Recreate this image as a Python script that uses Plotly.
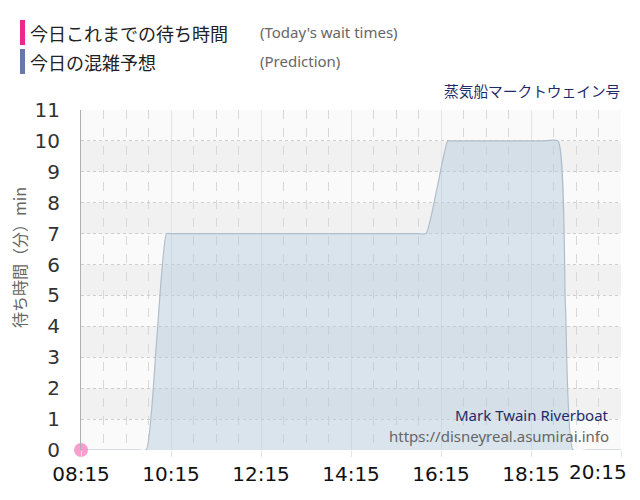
import plotly.graph_objects as go

# prediction for the day
pred_times = ["08:15", "08:30", "08:45", "09:00", "09:15", "09:30", "09:42",
              "09:56", "10:09", "10:15", "10:30", "11:00", "11:30", "12:00",
              "12:30", "13:00", "13:30", "14:00", "14:30", "15:00", "15:30",
              "15:45", "15:55", "16:10", "16:24", "16:30", "17:00", "17:30",
              "18:00", "18:30", "18:51", "19:01", "19:11", "19:30", "19:45",
              "20:00", "20:15"]
pred_waits = [0, 0, 0, 0, 0, 0, 0,
              3.6, 7, 7, 7, 7, 7, 7,
              7, 7, 7, 7, 7, 7, 7,
              7, 7, 8.5, 10, 10, 10, 10,
              10, 10, 10, 4.6, 0, 0, 0,
              0, 0]

# today's actual waits so far
actual_times = ["08:15"]
actual_waits = [0]

x_ticks = ["08:15", "10:15", "12:15", "14:15", "16:15", "18:15", "20:15"]

DAY = "2024-05-01 "
FONT = "DejaVu Sans, Noto Sans CJK JP"
JP = "Noto Sans CJK JP, DejaVu Sans"

# the page has an 8px body margin, so the figure is sized to fit
OFF = 8
PL, PT, PW, PH = 81, 110, 540, 340   # plot area in window pixels
FW, FH = 624, 484


def ts(hm_list):
    return [DAY + hm for hm in hm_list]


def px_x(x):
    return (x - PL) / PW


def px_y(y):
    return (PT + PH - y) / PH


fig = go.Figure()

fig.add_trace(go.Scatter(
    x=ts(pred_times), y=pred_waits,
    mode="lines",
    line=dict(color="rgb(175,190,204)", width=1.2, shape="spline", smoothing=0.5),
    fill="tozeroy",
    fillcolor="rgba(180,202,220,0.45)",
    hoverinfo="skip",
    showlegend=False
))

fig.add_trace(go.Scatter(
    x=ts(actual_times), y=actual_waits,
    mode="markers",
    marker=dict(color="rgba(245,135,195,0.8)", size=14),
    cliponaxis=False,
    showlegend=False
))

# alternating horizontal bands
shapes = []
for k in range(1, 11, 2):
    shapes.append(dict(type="rect", xref="paper", yref="y", x0=0, x1=1,
                       y0=k, y1=k + 1, fillcolor="#f1f1f1",
                       line_width=0, layer="below"))

# header legend bars
shapes.append(dict(type="rect", xref="paper", yref="paper",
                   x0=px_x(20), x1=px_x(25), y0=px_y(45), y1=px_y(20),
                   fillcolor="#f0268c", line_width=0))
shapes.append(dict(type="rect", xref="paper", yref="paper",
                   x0=px_x(20), x1=px_x(25), y0=px_y(74), y1=px_y(49),
                   fillcolor="#6779a6", line_width=0))
fig.update_layout(shapes=shapes)

annotations = [
    dict(text="今日これまでの待ち時間", x=px_x(28), y=px_y(33),
         xanchor="left", yanchor="middle",
         font=dict(family=JP, size=18, color="#222")),
    dict(text="今日の混雑予想", x=px_x(28), y=px_y(62),
         xanchor="left", yanchor="middle",
         font=dict(family=JP, size=18, color="#222")),
    dict(text="(Today's wait times)", x=px_x(258), y=px_y(32),
         xanchor="left", yanchor="middle",
         font=dict(family="Noto Sans", size=15, color="#666")),
    dict(text="(Prediction)", x=px_x(258), y=px_y(61),
         xanchor="left", yanchor="middle",
         font=dict(family="Noto Sans", size=15, color="#666")),
    dict(text="蒸気船マークトウェイン号", x=px_x(622), y=px_y(90),
         xanchor="right", yanchor="middle",
         font=dict(family=JP, size=14.7, color="#1f2a6b")),
    dict(text="Mark Twain Riverboat", x=px_x(611), y=px_y(415),
         xanchor="right", yanchor="middle",
         font=dict(family="Noto Sans", size=15, color="#1f2a6b")),
    dict(text="https://disneyreal.asumirai.info", x=px_x(611), y=px_y(436),
         xanchor="right", yanchor="middle",
         font=dict(family="Noto Sans", size=15, color="#666")),
    # y axis title, placed like the original (above the middle)
    dict(text="待ち時間（分）min", x=px_x(19), y=px_y(258),
         xanchor="center", yanchor="middle", textangle=-90,
         font=dict(family=JP, size=16, color="#666")),
    # last x label is pulled inside the chart edge
    dict(text=x_ticks[-1], x=px_x(629), y=px_y(472),
         xanchor="right", yanchor="middle",
         font=dict(family=FONT, size=20, color="#111")),
]
for a in annotations:
    a.update(xref="paper", yref="paper", showarrow=False)

fig.update_layout(
    annotations=annotations,
    width=FW, height=FH,
    margin=dict(l=PL - OFF, r=FW - (PL - OFF) - PW, t=PT - OFF,
                b=FH - (PT - OFF) - PH),
    paper_bgcolor="white",
    plot_bgcolor="#fafafa",
    font=dict(family=FONT),
    showlegend=False,
)

fig.update_xaxes(
    type="date",
    range=[DAY + "08:15", DAY + "20:15"],
    tickvals=ts(x_ticks), ticktext=x_ticks[:-1] + [""],
    tickfont=dict(size=20, color="#111"),
    showgrid=True, gridcolor="#e4e4e4", gridwidth=1,
    ticks="outside", ticklen=6, tickcolor="#e4e4e4",
    minor=dict(dtick=30 * 60 * 1000, tick0=DAY + "08:15", showgrid=True,
               gridcolor="#d8d8d8", griddash="dash", gridwidth=1),
    showline=False, zeroline=False, fixedrange=True, automargin=False,
)

fig.update_yaxes(
    range=[0, 11], dtick=1, tick0=0,
    tickfont=dict(size=20, color="#333"),
    ticklabelstandoff=16,
    showgrid=True, gridcolor="#cfcfcf", griddash="dot", gridwidth=1,
    showline=True, linecolor="#b0b0b0", linewidth=1,
    zeroline=False, fixedrange=True, automargin=False,
)

fig.write_html("out.html")
